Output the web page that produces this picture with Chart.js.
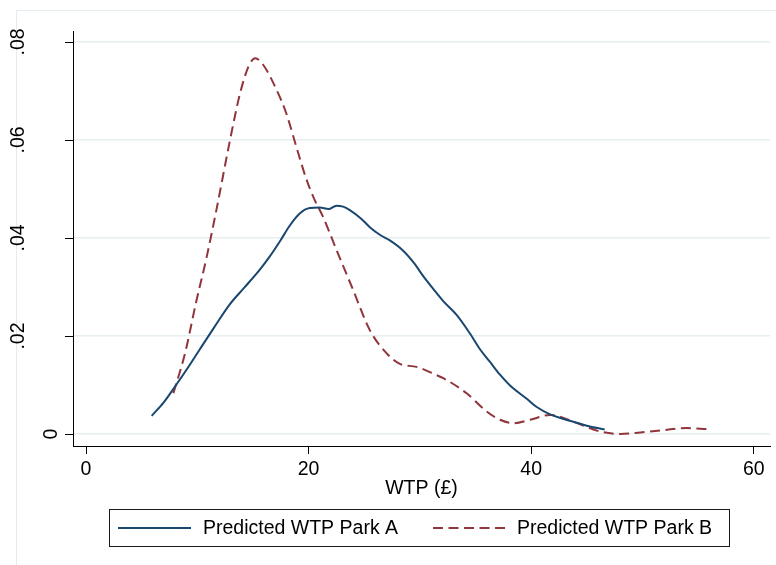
<!DOCTYPE html>
<html>
<head>
<meta charset="utf-8">
<title>Predicted WTP density</title>
<script src="https://cdn.jsdelivr.net/npm/chart.js@4/dist/chart.umd.min.js"></script>
<style>
    html, body { margin: 0; padding: 0; background: #fff; }
    #wrap { width: 776px; height: 565px; }
</style>
</head>
<body>
<div id="wrap"><canvas id="wtpChart" width="776" height="565"></canvas></div>
<script>
// Stata-like colours
const COLORS = {
    parkA: '#1a476f',
    parkB: '#90353b',
    grid: '#e6eef0',
    frame: '#e3edf1',
    axis: '#000'
};
const FONT = { family: '"Liberation Sans", Arial, sans-serif', size: 19.5 };

// Kernel density curves
const parkAX = [5.9, 7.0, 8.0, 9.0, 10.2, 11.5, 12.9, 14.2, 15.6, 16.5, 17.5, 18.3, 19.2, 20.1, 21.0, 21.8, 22.5,
    23.1, 23.7, 24.7, 25.5, 26.5, 27.3, 28.5, 29.5, 30.3, 31.2, 32.1, 33.3, 34.5, 35.4, 36.3, 37.2, 38.1, 39.6,
    40.5, 41.7, 42.7, 43.8, 45.0, 46.6];
const parkAY = [0.0037, 0.0065, 0.0097, 0.0130, 0.0172, 0.0217, 0.0264, 0.0298, 0.0335, 0.0362, 0.0396, 0.0425,
    0.0450, 0.0461, 0.0462, 0.0459, 0.0466, 0.0464, 0.0457, 0.0440, 0.0422, 0.0405, 0.0395, 0.0374, 0.0348,
    0.0322, 0.0296, 0.0271, 0.0243, 0.0205, 0.0173, 0.0147, 0.0121, 0.0099, 0.0072, 0.0055, 0.0040, 0.0032,
    0.0025, 0.0017, 0.0009];

const parkBX = [7.85, 8.9, 9.9, 10.8, 11.74, 12.94, 13.84, 14.6, 15.2, 15.93, 17.13, 18.0, 18.9, 19.8, 20.5,
    21.3, 22.5, 24.0, 25.5, 27.0, 28.2, 29.7, 31.5, 32.1, 34.2, 36.0, 37.2, 38.4, 39.9, 41.7, 43.8, 46.2, 48.0,
    49.8, 51.9, 54.0, 55.8];
const parkBY = [0.0083, 0.0165, 0.0270, 0.0357, 0.0460, 0.0600, 0.0695, 0.0750, 0.0767, 0.0753, 0.0702, 0.0654,
    0.0586, 0.0520, 0.0480, 0.0443, 0.0376, 0.0294, 0.0212, 0.0165, 0.0143, 0.0137, 0.0120, 0.0114, 0.0083,
    0.0046, 0.0029, 0.0022, 0.0029, 0.0039, 0.0025, 0.0005, 0.0000, 0.0003, 0.0008, 0.0012, 0.0010];

const seriesLabels = ['Predicted WTP Park A', 'Predicted WTP Park B'];
const xTicks = [0, 20, 40, 60];
const yTicks = [0, 0.02, 0.04, 0.06, 0.08];
const yTickLabels = ['0', '.02', '.04', '.06', '.08'];
const xTitle = 'WTP (£)';

function toPoints(xs, ys) {
    return xs.map((x, i) => ({ x: x, y: ys[i] }));
}

// Faint outer frame of the graph region (left and top edges only show)
const framePlugin = {
    id: 'frame',
    beforeDraw(chart) {
        const c = chart.ctx;
        c.save();
        c.fillStyle = '#fff';
        c.fillRect(0, 0, chart.width, chart.height);
        c.strokeStyle = COLORS.frame;
        c.lineWidth = 1;
        c.beginPath();
        c.moveTo(16.5, chart.height);
        c.lineTo(16.5, 10.5);
        c.lineTo(chart.width, 10.5);
        c.stroke();
        c.restore();
    }
};

// Vertical y tick labels, placed the way Stata does it
const yLabelPlugin = {
    id: 'yLabels',
    afterDraw(chart) {
        const c = chart.ctx;
        const scale = chart.scales.y;
        c.save();
        c.font = FONT.size + 'px ' + FONT.family;
        c.fillStyle = '#000';
        c.textAlign = 'center';
        c.textBaseline = 'alphabetic';
        yTicks.forEach((v, i) => {
            const label = yTickLabels[i];
            const w = c.measureText(label).width;
            const bx = 78.6 - 2 * w;
            c.save();
            c.translate(bx, scale.getPixelForValue(v));
            c.rotate(-Math.PI / 2);
            c.fillText(label, 0, 0);
            c.restore();
        });
        // dark tick marks on the y axis
        c.strokeStyle = COLORS.axis;
        c.lineWidth = 1;
        yTicks.forEach((v) => {
            const py = Math.round(scale.getPixelForValue(v)) + 0.5;
            c.beginPath();
            c.moveTo(65, py);
            c.lineTo(chart.chartArea.left, py);
            c.stroke();
        });
        c.restore();
    }
};

// Boxed legend below the plot
const legendPlugin = {
    id: 'boxLegend',
    afterDraw(chart) {
        const c = chart.ctx;
        const sets = chart.data.datasets;
        const midY = 528;
        const entries = [
            { x0: 118, x1: 191, tx: 203 },
            { x0: 433, x1: 505, tx: 517 }
        ];
        c.save();
        c.strokeStyle = '#1a1a1a';
        c.lineWidth = 1;
        c.strokeRect(109.5, 509.5, 620, 37);
        c.font = FONT.size + 'px ' + FONT.family;
        c.fillStyle = '#000';
        c.textBaseline = 'middle';
        c.textAlign = 'left';
        entries.forEach((e, i) => {
            c.strokeStyle = sets[i].borderColor;
            c.lineWidth = 2;
            c.setLineDash(sets[i].borderDash || []);
            c.beginPath();
            c.moveTo(e.x0, midY);
            c.lineTo(e.x1, midY);
            c.stroke();
            c.setLineDash([]);
            c.fillText(sets[i].label, e.tx, midY + 1);
        });
        c.restore();
    }
};

function createWtpChart(canvasId) {
    const ctx = document.getElementById(canvasId);
    if (!ctx) {
        console.error(`Canvas element ${canvasId} not found`);
        return null;
    }

    return new Chart(ctx, {
        type: 'line',
        data: {
            datasets: [{
                label: seriesLabels[0],
                data: toPoints(parkAX, parkAY),
                borderColor: COLORS.parkA,
                borderWidth: 2,
                pointRadius: 0,
                fill: false,
                cubicInterpolationMode: 'monotone'
            }, {
                label: seriesLabels[1],
                data: toPoints(parkBX, parkBY),
                borderColor: COLORS.parkB,
                borderWidth: 2,
                borderDash: [10, 5.5],
                pointRadius: 0,
                fill: false,
                cubicInterpolationMode: 'monotone'
            }]
        },
        options: {
            responsive: false,
            animation: false,
            devicePixelRatio: 1,
            layout: { padding: { left: 0, right: 6, top: 31, bottom: 65 } },
            plugins: {
                legend: { display: false },
                tooltip: { enabled: false }
            },
            scales: {
                x: {
                    type: 'linear',
                    min: -1.17,
                    max: 61.46,
                    afterBuildTicks: (s) => { s.ticks = xTicks.map(v => ({ value: v })); },
                    afterFit: (s) => { s.height = 54; },
                    grid: { drawOnChartArea: false, tickLength: 8, tickColor: COLORS.axis },
                    border: { color: COLORS.axis, width: 1 },
                    ticks: { font: FONT, color: '#000', padding: 4, maxRotation: 0 },
                    title: {
                        display: true,
                        text: xTitle,
                        font: FONT,
                        color: '#000',
                        padding: { top: 0, bottom: 0 }
                    }
                },
                y: {
                    type: 'linear',
                    min: -0.00245,
                    max: 0.08224,
                    afterBuildTicks: (s) => { s.ticks = yTicks.map(v => ({ value: v })); },
                    afterFit: (s) => { s.width = 73; },
                    grid: { color: COLORS.grid, lineWidth: 1.5, drawTicks: false },
                    border: { color: COLORS.axis, width: 1 },
                    ticks: { display: false }
                }
            }
        },
        plugins: [framePlugin, yLabelPlugin, legendPlugin]
    });
}

createWtpChart('wtpChart');
</script>
</body>
</html>
